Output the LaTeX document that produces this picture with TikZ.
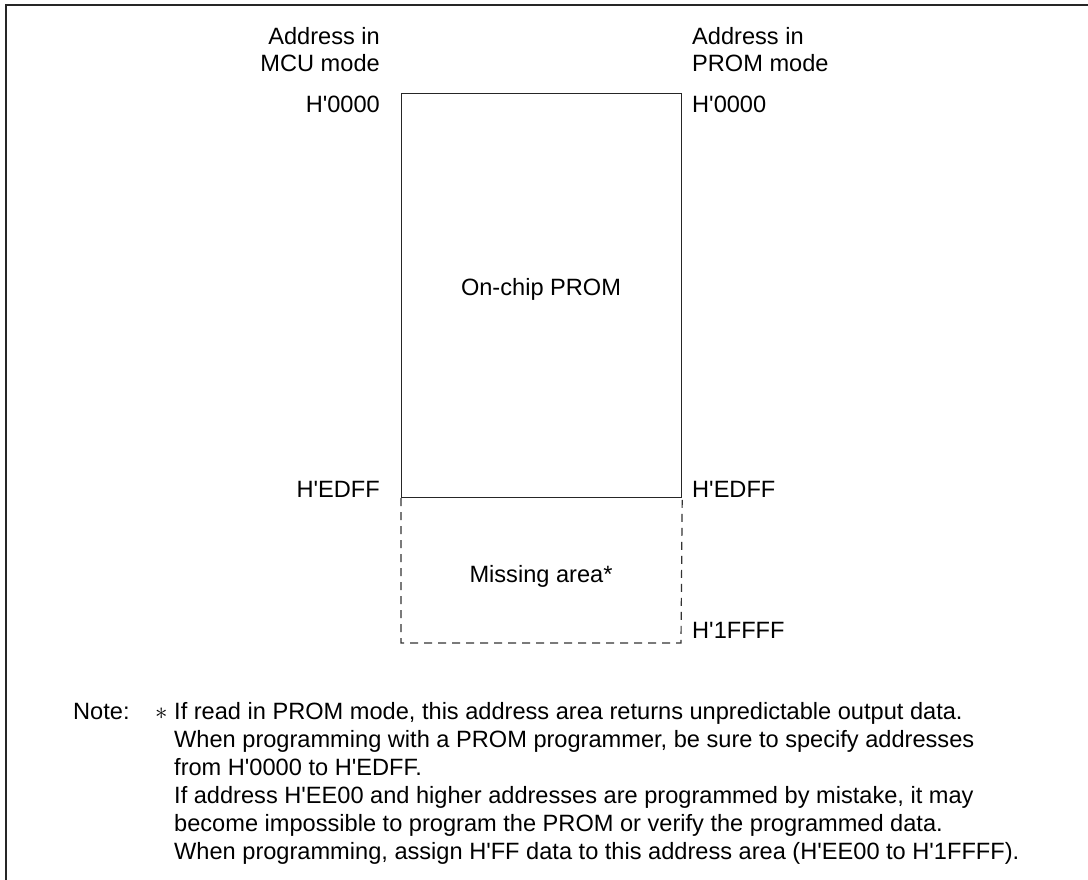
\documentclass[tikz,border=0pt]{standalone}
\usepackage{fontspec}
\setmainfont{Liberation Sans}
\newcommand\ap{\textquotesingle}
\begin{document}
\begin{tikzpicture}[x=1pt,y=-1pt,
  lbl/.style={inner sep=0pt, font=\fontsize{23.6}{28}\selectfont},
  frameline/.style={line width=1.5pt, draw=black!85},
  boxline/.style={line width=1.2pt, draw=black!85},
  dashline/.style={line width=1.2pt, draw=black!80, dash pattern=on 8pt off 6pt}]
\useasboundingbox (0,0) rectangle (1088,880);
% outer frame (top and left visible)
\coordinate (fbl) at (6,880);
\coordinate (ftl) at (6,5);
\coordinate (ftr) at (1088,5);
\draw[frameline] (fbl) -- (ftl) -- (ftr);
% memory block
\node[boxline, draw, minimum width=280pt, minimum height=404pt, inner sep=0pt, anchor=north west] (prom) at (401,93) {};
\node[lbl, anchor=base] (promtxt) at (541,295) {On-chip PROM};
\coordinate (mbl) at (401,643);
\coordinate (mbr) at (681,643);
\draw[dashline] (prom.south west) -- (mbl) -- (mbr) -- (prom.south east);
\node[lbl, anchor=base] (miss) at (541,582) {Missing area*};
% left labels
\node[lbl, anchor=base east] (la1) at (380,45) {Address in};
\node[lbl, anchor=base east] (la2) at (380,71.5) {MCU mode};
\node[lbl, anchor=base east] (la3) at (380,113) {H\ap 0000};
\node[lbl, anchor=base east] (la4) at (380,497) {H\ap EDFF};
% right labels
\node[lbl, anchor=base west] (ra1) at (692,45) {Address in};
\node[lbl, anchor=base west] (ra2) at (692,71.5) {PROM mode};
\node[lbl, anchor=base west] (ra3) at (692,113) {H\ap 0000};
\node[lbl, anchor=base west] (ra4) at (692,497) {H\ap EDFF};
\node[lbl, anchor=base west] (ra5) at (692,638) {H\ap 1FFFF};
% note
\node[lbl, anchor=base west] (note) at (73,719) {Note:};
\node[lbl, anchor=base west] (star) at (155,719) {$\ast$};
\node[lbl, anchor=base west] (n1) at (174,719) {If read in PROM mode, this address area returns unpredictable output data.};
\node[lbl, anchor=base west] (n2) at (174,747) {When programming with a PROM programmer, be sure to specify addresses};
\node[lbl, anchor=base west] (n3) at (174,775) {from H\ap 0000 to H\ap EDFF.};
\node[lbl, anchor=base west] (n4) at (174,803) {If address H\ap EE00 and higher addresses are programmed by mistake, it may};
\node[lbl, anchor=base west] (n5) at (174,831) {become impossible to program the PROM or verify the programmed data.};
\node[lbl, anchor=base west] (n6) at (174,859) {When programming, assign H\ap FF data to this address area (H\ap EE00 to H\ap 1FFFF).};
\end{tikzpicture}
\end{document}
